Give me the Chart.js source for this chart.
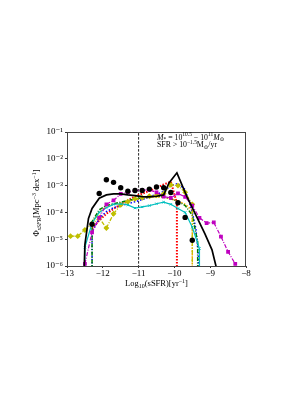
<!DOCTYPE html>
<html>
<head>
<meta charset="utf-8">
<script src="https://cdn.jsdelivr.net/npm/chart.js@4.4.1/dist/chart.umd.min.js"></script>
<style>
  html, body { margin: 0; padding: 0; background: #fff; }
  canvas { display: block; }
</style>
</head>
<body>
<canvas id="grafico" width="306" height="396"></canvas>
<script>
// log10(sSFR) bins, 1e-8 = curve falls to zero (off the bottom of the axis)
let xTicks = [-13, -12, -11, -10, -9, -8]
let yTicks = [1e-6, 1e-5, 1e-4, 1e-3, 1e-2, 1e-1]

let obsX = [-12.3, -12.1, -11.9, -11.7, -11.5, -11.3, -11.1, -10.9, -10.7, -10.5, -10.3, -10.1, -9.9, -9.7, -9.5]
let obsY = [3.6e-5, 5.1e-4, 1.66e-3, 1.32e-3, 8.3e-4, 6.2e-4, 6.6e-4, 6.6e-4, 7.4e-4, 8.9e-4, 8.3e-4, 5.5e-4, 2.3e-4, 6.5e-5, 9.1e-6]

let negroX = [-12.56, -12.5, -12.4, -12.3, -12.1, -11.9, -11.7, -11.5, -11.3, -11.1, -10.9, -10.7, -10.5, -10.3, -10.15, -9.93, -9.65, -9.4, -9.15, -8.95, -8.83]
let negroY = [1e-8, 6.3e-6, 6.0e-5, 1.4e-4, 3.4e-4, 4.5e-4, 4.9e-4, 4.9e-4, 4.5e-4, 4.2e-4, 3.9e-4, 3.8e-4, 4.0e-4, 4.5e-4, 1.26e-3, 3.0e-3, 3.9e-4, 7.9e-5, 1.6e-5, 4.0e-6, 8.9e-7]

let magentaX = [-12.5, -12.3, -12.1, -11.9, -11.7, -11.5, -11.3, -11.1, -10.9, -10.7, -10.5, -10.3, -10.1, -9.9, -9.7, -9.5, -9.3, -9.1, -8.9, -8.7, -8.5, -8.3]
let magentaY = [1.2e-6, 1.8e-5, 6.3e-5, 2.0e-4, 2.8e-4, 4.9e-4, 5.6e-4, 6.5e-4, 6.8e-4, 6.9e-4, 5.6e-4, 3.9e-4, 3.5e-4, 5.1e-4, 3.8e-4, 1.8e-4, 6.3e-5, 4.0e-5, 4.2e-5, 1.26e-5, 3.4e-6, 1.2e-6]

let cianoX = [-12.5, -12.5, -12.3, -12.1, -11.9, -11.7, -11.5, -11.3, -11.1, -10.9, -10.7, -10.5, -10.3, -10.1, -9.9, -9.7, -9.5, -9.3, -9.3]
let cianoY = [1e-8, 5.0e-6, 4.0e-5, 1.0e-4, 1.5e-4, 2.0e-4, 2.1e-4, 1.9e-4, 1.45e-4, 1.6e-4, 1.8e-4, 2.1e-4, 2.4e-4, 2.0e-4, 1.4e-4, 1.0e-4, 2.8e-5, 4.5e-6, 1e-8]

let verdeX = [-12.3, -12.3, -12.1, -11.9, -11.7, -11.5, -11.3, -11.1, -10.9, -10.7, -10.5, -10.3, -10.1, -9.9, -9.7, -9.5, -9.35, -9.35]
let verdeY = [1e-8, 4.5e-5, 1.26e-4, 1.8e-4, 2.1e-4, 2.4e-4, 2.75e-4, 3.2e-4, 3.5e-4, 3.8e-4, 4.0e-4, 3.8e-4, 3.2e-4, 2.6e-4, 1.8e-4, 7.9e-5, 7.9e-6, 1e-8]

let azulX = [-12.3, -12.3, -12.1, -11.9, -11.7, -11.5, -11.3, -11.1, -10.9, -10.7, -10.5, -10.3, -10.1, -9.9, -9.7, -9.5, -9.4, -9.33, -9.33]
let azulY = [1e-8, 1.8e-5, 6.0e-5, 1.07e-4, 1.5e-4, 1.8e-4, 2.1e-4, 2.5e-4, 3.0e-4, 3.8e-4, 4.7e-4, 6.0e-4, 1.0e-3, 1.2e-3, 7.1e-4, 1.0e-4, 2.5e-5, 2.5e-6, 1e-8]

let vermelhoX = [-12.3, -12.1, -11.9, -11.7, -11.5, -11.3, -11.1, -10.9, -10.7, -10.5, -10.3, -10.1, -9.93, -9.93]
let vermelhoY = [2.5e-5, 5.0e-5, 8.9e-5, 1.35e-4, 2.0e-4, 2.8e-4, 4.0e-4, 5.0e-4, 6.3e-4, 8.3e-4, 1.1e-3, 1.4e-3, 2.2e-4, 1e-8]

let amareloX = [-12.9, -12.7, -12.5, -12.3, -12.1, -11.9, -11.7, -11.5, -11.3, -11.1, -10.9, -10.7, -10.5, -10.3, -10.1, -9.9, -9.7, -9.5, -9.5]
let amareloY = [1.3e-5, 1.3e-5, 2.2e-5, 3.7e-5, 6.3e-5, 2.6e-5, 8.9e-5, 1.9e-4, 2.5e-4, 3.2e-4, 3.5e-4, 4.0e-4, 4.3e-4, 5.0e-4, 1.07e-3, 1.0e-3, 5.6e-4, 2.0e-4, 1e-8]

let laranjaX = [-12.3, -12.1, -11.9, -11.7, -11.5, -11.3, -11.1, -10.9, -10.7, -10.5, -10.3, -10.1, -9.9, -9.7, -9.5, -9.5]
let laranjaY = [4.0e-5, 1.1e-4, 1.6e-4, 2.0e-4, 2.3e-4, 2.6e-4, 3.0e-4, 3.3e-4, 3.6e-4, 3.8e-4, 3.7e-4, 3.2e-4, 2.7e-4, 2.0e-4, 1.2e-4, 1e-8]

let corteX = [-11, -11]
let corteY = [1e-8, 1]

function pontos(xs, ys) {
    let p = []
    for (let i = 0; i < xs.length; i++) {
        p.push({ x: xs[i], y: ys[i] })
    }
    return p
}

function linha(xs, ys, cor, extra) {
    return Object.assign({
        data: pontos(xs, ys),
        showLine: true,
        borderColor: cor,
        backgroundColor: cor,
        borderWidth: 1.2,
        pointRadius: 0,
        fill: false,
        tension: 0
    }, extra)
}

// rich text: parts = [[text, 'n' | 'i' | 'sup' | 'sub' | 'subi']]
function textoRico(ctx, parts, x, y, size, align) {
    let serif = '"Liberation Serif", "DejaVu Serif", serif'
    let fontOf = (m) => {
        let s = (m == 'sup' || m == 'sub' || m == 'subi') ? size * 0.7 : size
        let it = (m == 'i' || m == 'subi') ? 'italic ' : ''
        return it + s + 'px ' + serif
    }
    let w = 0
    for (let p of parts) {
        ctx.font = fontOf(p[1])
        w += ctx.measureText(p[0]).width
    }
    let cx = align == 'center' ? x - w / 2 : x
    ctx.textAlign = 'left'
    ctx.textBaseline = 'alphabetic'
    ctx.fillStyle = '#000'
    for (let p of parts) {
        ctx.font = fontOf(p[1])
        let dy = 0
        if (p[1] == 'sup') dy = -size * 0.4
        if (p[1] == 'sub' || p[1] == 'subi') dy = size * 0.2
        ctx.fillText(p[0], cx, y + dy)
        cx += ctx.measureText(p[0]).width
    }
}

// keep the curves inside the axes box
let recorte = {
    id: 'recorte',
    beforeDatasetsDraw(chart) {
        let a = chart.chartArea
        chart.ctx.save()
        chart.ctx.beginPath()
        chart.ctx.rect(a.left, a.top, a.right - a.left, a.bottom - a.top)
        chart.ctx.clip()
    },
    afterDatasetsDraw(chart) {
        chart.ctx.restore()
    }
}

let moldura = {
    id: 'moldura',
    afterDraw(chart) {
        let ctx = chart.ctx
        let a = chart.chartArea
        ctx.save()
        ctx.strokeStyle = '#444'
        ctx.lineWidth = 1
        ctx.strokeRect(a.left + 0.5, a.top + 0.5, a.right - a.left - 1, a.bottom - a.top)

        textoRico(ctx, [['Log', 'n'], ['10', 'sub'], ['(sSFR)[yr', 'n'], ['\u22121', 'sup'], [']', 'n']],
            (a.left + a.right) / 2, a.bottom + 20, 8.5, 'center')

        ctx.save()
        ctx.translate(a.left - 31, (a.top + a.bottom) / 2 + 4)
        ctx.rotate(-Math.PI / 2)
        textoRico(ctx, [['\u03A6', 'n'], ['sSFR', 'subi'], ['[Mpc', 'n'], ['\u22123', 'sup'], [' dex', 'n'], ['\u22121', 'sup'], [']', 'n']],
            0, 3, 8.5, 'center')
        ctx.restore()

        textoRico(ctx, [['M', 'i'], ['*', 'sub'], [' = 10', 'n'], ['10.5', 'sup'], [' \u2212 10', 'n'], ['11', 'sup'], ['M', 'i'], ['\u2299', 'sub']],
            a.left + 90, a.top + 7.5, 7.8, 'left')
        textoRico(ctx, [['SFR > 10', 'n'], ['\u22121.5', 'sup'], ['M', 'n'], ['\u2299', 'sub'], ['/yr', 'n']],
            a.left + 90, a.top + 15, 7.8, 'left')
        ctx.restore()
    }
}

let fonteTick = { family: '"Liberation Serif", "DejaVu Serif", serif', size: 9 }
let sup = { '0': '\u2070', '1': '\u00B9', '2': '\u00B2', '3': '\u00B3', '4': '\u2074', '5': '\u2075', '6': '\u2076', '-': '\u207B' }

let ctx = document.getElementById('grafico').getContext('2d')
new Chart(ctx, {
    type: 'scatter',
    data: {
        datasets: [
            linha(corteX, corteY, '#222', { borderWidth: 1, borderDash: [2.5, 1.5], order: 9 }),
            linha(laranjaX, laranjaY, '#ffa500', { borderWidth: 1.5, borderDash: [1.5, 1.5], order: 8 }),
            linha(vermelhoX, vermelhoY, '#ff0000', { borderWidth: 2, borderDash: [1.5, 1.5], order: 7 }),
            linha(azulX, azulY, '#0000ff', { borderWidth: 1.5, borderDash: [1.5, 1.8], order: 6 }),
            linha(verdeX, verdeY, '#008000', { borderWidth: 1.5, borderDash: [4, 1.5, 1, 1.5], order: 5 }),
            linha(amareloX, amareloY, '#bfbf00', { borderWidth: 1.3, borderDash: [4, 1.5, 1, 1.5], pointRadius: 2, pointStyle: 'rectRot', order: 4 }),
            linha(cianoX, cianoY, '#00bfbf', { borderWidth: 1.2, pointRadius: 1.6, pointStyle: 'crossRot', pointBorderWidth: 1, order: 3 }),
            linha(magentaX, magentaY, '#bf00bf', { borderWidth: 1.2, borderDash: [4, 1.5, 1, 1.5], pointRadius: 1.8, pointStyle: 'rect', order: 2 }),
            linha(negroX, negroY, '#000000', { borderWidth: 1.7, order: 1 }),
            {
                data: pontos(obsX, obsY),
                showLine: false,
                pointRadius: 2.7,
                pointStyle: 'circle',
                backgroundColor: '#000',
                borderColor: '#000',
                borderWidth: 0,
                order: 0
            }
        ]
    },
    options: {
        responsive: false,
        animation: false,
        events: [],
        layout: { padding: { left: 0, right: 60, top: 132, bottom: 100 } },
        plugins: { legend: { display: false }, tooltip: { enabled: false } },
        scales: {
            x: {
                type: 'linear',
                min: -13,
                max: -8,
                afterBuildTicks: (s) => { s.ticks = xTicks.map(v => ({ value: v })) },
                afterFit: (s) => { s.height = 30 },
                ticks: {
                    color: '#000',
                    font: fonteTick,
                    padding: 0,
                    maxRotation: 0,
                    callback: (v) => (v < 0 ? '\u2212' : '') + Math.abs(v)
                },
                grid: { drawOnChartArea: false, tickLength: 2, color: '#333' },
                border: { color: '#444' }
            },
            y: {
                type: 'logarithmic',
                min: 1e-6,
                max: 1e-1,
                afterBuildTicks: (s) => { s.ticks = yTicks.map(v => ({ value: v })) },
                afterFit: (s) => { s.width = 67 },
                ticks: {
                    color: '#000',
                    font: fonteTick,
                    padding: 2,
                    callback: (v) => {
                        let e = String(Math.round(Math.log10(v)))
                        return '10' + e.split('').map(c => sup[c]).join('')
                    }
                },
                grid: { drawOnChartArea: false, tickLength: 2, color: '#333' },
                border: { color: '#444' }
            }
        }
    },
    plugins: [recorte, moldura]
})
</script>
</body>
</html>
